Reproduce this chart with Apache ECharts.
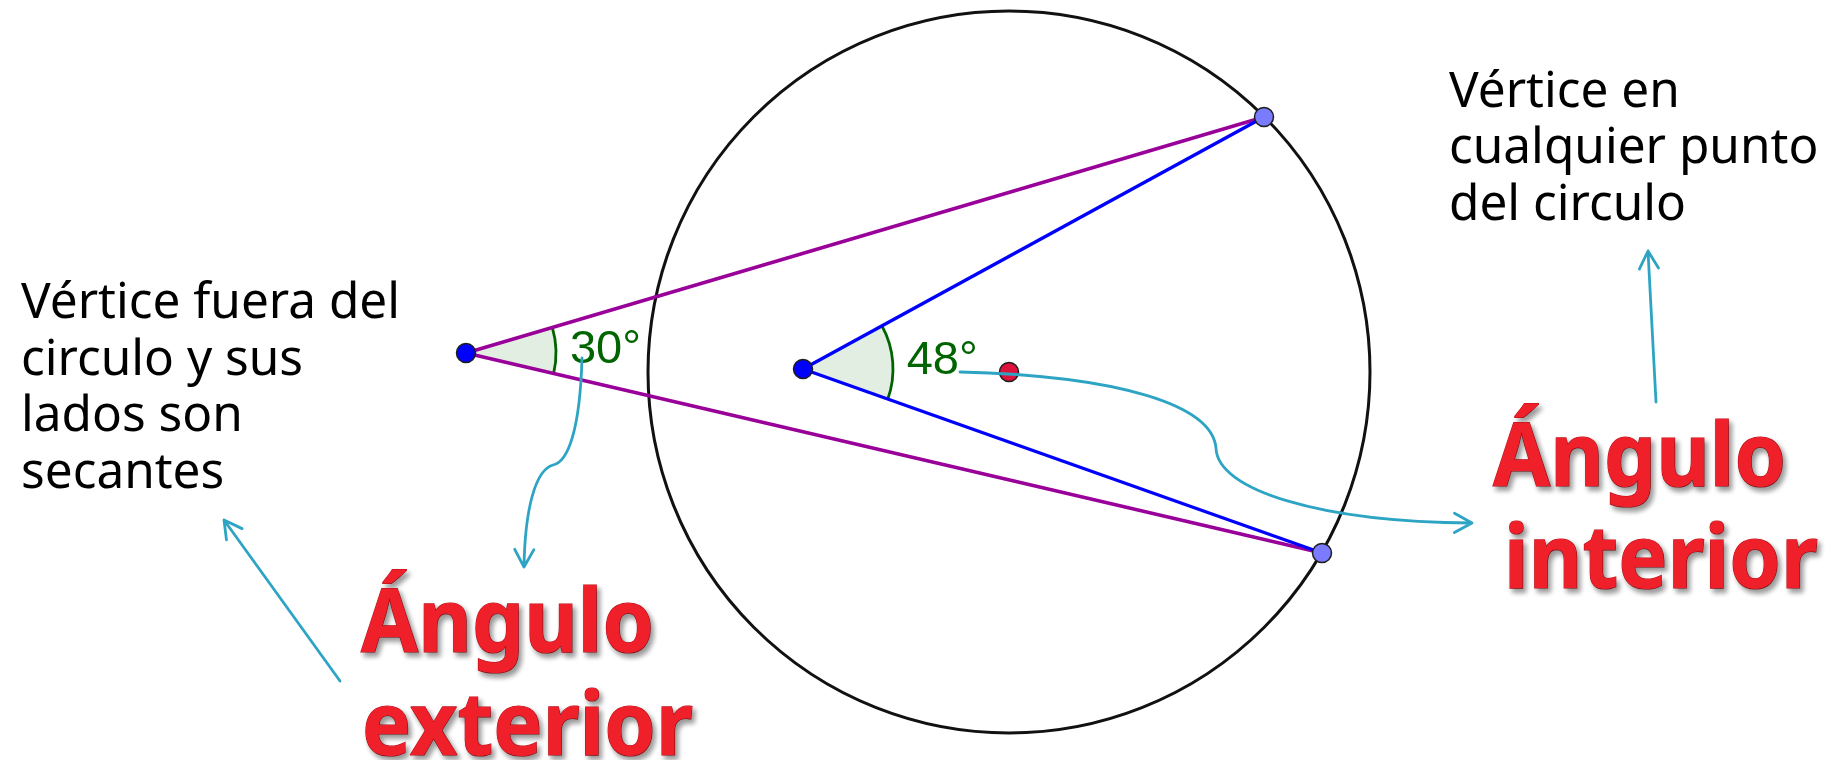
<!DOCTYPE html>
<html>
<head>
<meta charset="utf-8">
<script src="https://cdn.jsdelivr.net/npm/echarts@6/dist/echarts.min.js"></script>
<style>
  html, body { margin: 0; padding: 0; background: #ffffff; }
  #chart { width: 1835px; height: 760px; }
</style>
</head>
<body>
<div id="chart"></div>
<script>
// ---------- data ----------
const pointNames = ['A', 'B', 'C', 'D', 'O'];
const pointX = [466, 803, 1264, 1322, 1009];
const pointY = [353, 369, 117, 553, 372];
const circleCenter = 'O';
const circleRadius = 361;
const exteriorSides = [['A', 'C'], ['A', 'D']];
const interiorSides = [['B', 'C'], ['B', 'D']];
const angleVertices = ['A', 'B'];
const angleSides = [['C', 'D'], ['C', 'D']];
const angleValues = [30, 48];
const leftNote = ['Vértice fuera del', 'circulo y sus', 'lados son', 'secantes'];
const rightNote = ['Vértice en', 'cualquier punto', 'del circulo'];
const exteriorTitle = ['Ángulo', 'exterior'];
const interiorTitle = ['Ángulo', 'interior'];
// arrows: start point, then cubic bezier triples (or a single end point for straight arrows)
const arrowPaths = [
  [[960, 372], [1120, 376], [1212, 405], [1216, 448], [1217, 490], [1320, 522], [1472, 523]],
  [[582, 358], [580, 430], [568, 462], [553, 465], [535, 470], [525, 510], [524, 567]],
  [[340, 681], [224, 520]],
  [[1656, 402], [1648, 251]]
];

// ---------- styles ----------
const pointColors = { A: '#0000ff', B: '#0000ff', C: '#7b7bff', D: '#7b7bff', O: '#dc143c' };
const purple = '#990099';
const blue = '#0000ff';
const green = '#006400';
const teal = '#2ea4c4';

function pt(name) {
  const i = pointNames.indexOf(name);
  return [pointX[i], pointY[i]];
}

const chart = echarts.init(document.getElementById('chart'));

const segData = exteriorSides.map(s => pt(s[0]).concat(pt(s[1])).concat([0]))
  .concat(interiorSides.map(s => pt(s[0]).concat(pt(s[1])).concat([1])));

function segItem(params, api) {
  const a = api.coord([api.value(0), api.value(1)]);
  const b = api.coord([api.value(2), api.value(3)]);
  return {
    type: 'line',
    shape: { x1: a[0], y1: a[1], x2: b[0], y2: b[1] },
    style: { stroke: api.value(4) === 0 ? purple : blue, lineWidth: 3.4 }
  };
}

function circleItem(params, api) {
  const c = api.coord([api.value(0), api.value(1)]);
  const r = api.size([api.value(2), 0])[0];
  return {
    type: 'circle',
    shape: { cx: c[0], cy: c[1], r: r },
    style: { fill: 'none', stroke: '#111111', lineWidth: 3 }
  };
}

function angleItem(params, api) {
  const i = params.dataIndex;
  const c = api.coord(pt(angleVertices[i]));
  const p1 = api.coord(pt(angleSides[i][0]));
  const p2 = api.coord(pt(angleSides[i][1]));
  let a1 = Math.atan2(p1[1] - c[1], p1[0] - c[0]);
  let a2 = Math.atan2(p2[1] - c[1], p2[0] - c[0]);
  if (a2 < a1) { const t = a1; a1 = a2; a2 = t; }
  const r = api.size([90, 0])[0];
  const bis = (a1 + a2) / 2;
  const lr = api.size([104, 0])[0];
  return {
    type: 'group',
    children: [
      { type: 'sector', shape: { cx: c[0], cy: c[1], r0: 0, r: r, startAngle: a1, endAngle: a2, clockwise: true },
        style: { fill: 'rgba(0,100,0,0.11)', stroke: 'none' } },
      { type: 'arc', shape: { cx: c[0], cy: c[1], r: r, startAngle: a1, endAngle: a2, clockwise: true },
        style: { fill: 'none', stroke: green, lineWidth: 2.8 } },
      { type: 'text', x: c[0] + lr * Math.cos(bis), y: c[1] + lr * Math.sin(bis),
        style: { text: angleValues[i] + '°', font: '47px "Liberation Sans", Arial, sans-serif', fill: green,
                 align: 'left', verticalAlign: 'middle', textAlign: 'left', textVerticalAlign: 'middle' } }
    ]
  };
}

function arrowItem(params, api) {
  const pts = arrowPaths[params.dataIndex].map(p => api.coord(p));
  let d = 'M' + pts[0][0] + ' ' + pts[0][1];
  if (pts.length === 2) {
    d += ' L' + pts[1][0] + ' ' + pts[1][1];
  } else {
    for (let i = 1; i + 2 < pts.length; i += 3) {
      d += ' C' + [pts[i], pts[i + 1], pts[i + 2]].map(p => p[0] + ' ' + p[1]).join(' ');
    }
  }
  const tip = pts[pts.length - 1], prev = pts[pts.length - 2];
  const ang = Math.atan2(tip[1] - prev[1], tip[0] - prev[0]);
  const L = 20, w = 0.5;
  const w1 = [tip[0] - L * Math.cos(ang - w), tip[1] - L * Math.sin(ang - w)];
  const w2 = [tip[0] - L * Math.cos(ang + w), tip[1] - L * Math.sin(ang + w)];
  d += ' M' + w1[0] + ' ' + w1[1] + ' L' + tip[0] + ' ' + tip[1] + ' L' + w2[0] + ' ' + w2[1];
  return {
    type: 'path',
    shape: { pathData: d },
    style: { fill: 'none', stroke: teal, lineWidth: 2.8, lineJoin: 'round', lineCap: 'round' }
  };
}

const noteFont = '49.5px "Noto Sans", sans-serif';
const titleFont = 'bold 87px "Noto Sans", sans-serif';

function textEl(str, x, y, font, isTitle) {
  const style = { text: str, x: 0, y: 0, font: font,
    align: 'left', verticalAlign: 'middle', textAlign: 'left', textVerticalAlign: 'middle' };
  const el = { type: 'text', silent: true, x: x, y: y, z: 100, style: style };
  if (isTitle) {
    style.fill = '#ef2029';
    style.stroke = '#c0101a';
    style.lineWidth = 1.2;
    style.textShadowColor = 'rgba(0,0,0,0.4)';
    style.textShadowBlur = 5;
    style.textShadowOffsetX = 3;
    style.textShadowOffsetY = 4;
    el.scaleX = 0.95;
  } else {
    style.fill = '#000000';
  }
  return el;
}

const leftBaselines = [318, 375, 431, 488];
const rightBaselines = [107, 163, 220];
const graphics = [];
leftNote.forEach((s, i) => graphics.push(textEl(s, 21, leftBaselines[i] - 14, noteFont, false)));
rightNote.forEach((s, i) => graphics.push(textEl(s, 1449, rightBaselines[i] - 14, noteFont, false)));
graphics.push(textEl(exteriorTitle[0], 361, 652 - 25, titleFont, true));
graphics.push(textEl(exteriorTitle[1], 362, 755 - 25, titleFont, true));
graphics.push(textEl(interiorTitle[0], 1493, 486 - 25, titleFont, true));
graphics.push(textEl(interiorTitle[1], 1504, 588 - 25, titleFont, true));

chart.setOption({
  animation: false,
  backgroundColor: '#ffffff',
  grid: { left: 0, right: 0, top: 0, bottom: 0 },
  xAxis: { type: 'value', min: 0, max: 1835, show: false },
  yAxis: { type: 'value', min: 0, max: 760, inverse: true, show: false },
  graphic: graphics,
  series: [
    { type: 'custom', name: 'circle', silent: true, z: 1, renderItem: circleItem,
      data: [pt(circleCenter).concat([circleRadius])] },
    { type: 'custom', name: 'angles', silent: true, z: 2, renderItem: angleItem,
      data: angleVertices.map(pt) },
    { type: 'custom', name: 'segments', silent: true, z: 3, renderItem: segItem, data: segData },
    { type: 'scatter', name: 'points', silent: true, z: 4, symbol: 'circle', symbolSize: 19,
      data: pointNames.map(n => ({ value: pt(n), itemStyle: { color: pointColors[n], borderColor: '#1e1e1e', borderWidth: 1.5, opacity: 1 } })) },
    { type: 'custom', name: 'arrows', silent: true, z: 5, renderItem: arrowItem,
      data: arrowPaths.map(p => p[0]) }
  ]
});
</script>
</body>
</html>
